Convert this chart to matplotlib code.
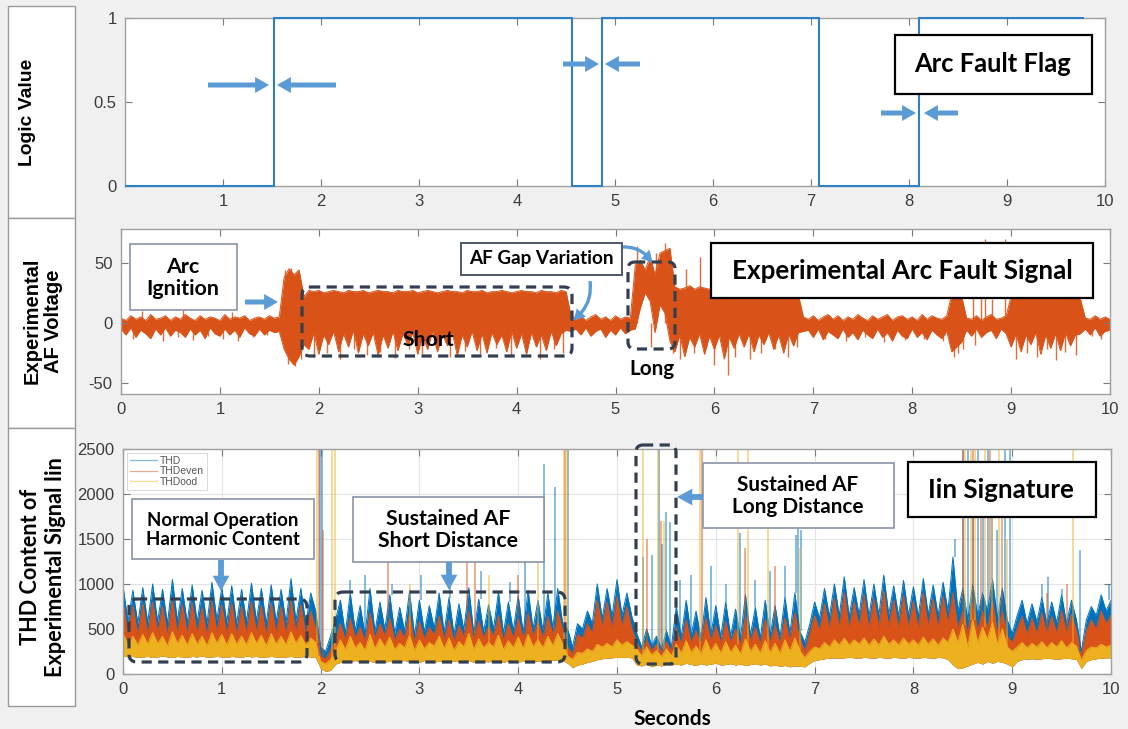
import numpy as np
import matplotlib
matplotlib.use('Agg')
import matplotlib.pyplot as plt
from matplotlib.patches import Rectangle, FancyBboxPatch, FancyArrowPatch
from matplotlib.lines import Line2D
import matplotlib.transforms as mtransforms

plt.rcParams['axes.unicode_minus'] = False

# ------------------------------------------------------------------ data
t = np.linspace(0, 10, 201)          # sample grid, 0.05 s

# Arc fault flag (step signal)
flag_edges = [0, 1.52, 4.56, 4.87, 7.08, 8.10, 9.79]
flag_levels = [0, 1, 0, 1, 0, 1]

# Experimental AF voltage: upper / lower envelope per sample
volt_hi = ([4, 2, 6, 3, 5, 2, 7, 3, 4, 6, 2, 5, 3, 7, 4, 2, 6, 3, 5, 4,
            2, 7, 3, 5, 4, 6, 2, 4, 5, 3, 6, 4]
           + [5] + [38, 45, 40, 44, 22]
           + [27, 26, 27, 25, 26, 27, 26, 25, 27, 26, 26, 27, 25, 26, 27, 26, 26, 25, 27, 26,
              26, 27, 25, 26, 27, 26, 25, 26, 27, 26, 26, 25, 27, 26, 26, 27, 25, 26, 26, 27,
              26, 25, 26, 27, 26, 26, 25, 27, 26, 26, 25, 27, 26]
           + [6] + [3, 6, 2, 5, 7, 3, 5, 2, 6, 3, 5, 4]
           + [48, 52, 44, 55, 40, 58, 60, 62]
           + [30, 28, 29, 31, 28, 30, 29, 28, 30, 29, 27, 28, 29, 28]
           + [24, 23, 24, 22, 23, 24, 23, 22, 24, 23, 22, 23]
           + [5] + [3, 6, 2, 5, 7, 3, 6, 2, 5, 3, 7, 4, 2, 6, 3, 5, 7, 2, 5, 6,
                    3, 5, 2, 7, 3, 6, 4, 3, 6]
           + [24, 23, 22] + [4, 3, 6, 2, 5, 7, 3, 4, 6]
           + [22, 23, 22, 21, 23, 22, 22, 23, 21, 22, 23, 22, 21, 22, 20]
           + [4, 3, 6, 3, 5, 3])
volt_lo = ([-5, -10, -4, -12, -6, -9, -13, -5, -10, -4, -11, -6, -8, -12, -5, -10, -6, -13, -4, -9,
            -11, -5, -10, -6, -12, -4, -9, -11, -5, -10, -6, -8]
           + [-7] + [-22, -30, -35, -28, -18]
           + [-22, -8, -26, -10, -18, -7, -24, -9, -20, -6, -25, -9, -19, -8, -27, -10, -21, -7, -23, -9,
              -18, -8, -26, -10, -22, -7, -24, -9, -19, -8, -27, -10, -20, -7, -23, -9, -25, -8, -18, -10,
              -24, -7, -21, -9, -26, -8, -20, -10, -23, -7, -19, -9, -6]
           + [-7] + [-5, -10, -4, -11, -7, -5, -12, -6, -10, -4, -9, -6]
           + [-5, 12, 25, 18, -8, 15, 8, -15]
           + [-24, -10, -28, -12, -20, -9, -26, -11, -22, -10, -30, -12, -21, -9]
           + [-20, -9, -24, -10, -18, -8, -22, -10, -25, -9, -19, -8]
           + [-7] + [-6, -12, -5, -14, -7, -10, -13, -5, -12, -8, -14, -6, -10, -13, -5, -12, -8, -15, -6, -11,
                     -13, -5, -12, -8, -14, -6, -10, -13, -7]
           + [-24, -20, -16] + [-6, -11, -5, -12, -8, -6, -13, -5, -9]
           + [-20, -9, -24, -10, -18, -8, -26, -10, -21, -9, -23, -8, -19, -10, -9]
           + [-5, -10, -4, -11, -7, -6])

# isolated voltage spikes
volt_spike_t = [0.12, 0.27, 0.42, 0.58, 0.73, 0.88, 1.03, 1.18, 1.33, 1.48, 0.21, 0.63, 1.12,
                1.66, 1.69, 1.72, 1.76, 1.79, 1.82,
                1.95, 2.08, 2.21, 2.36, 2.49, 2.62, 2.77, 2.91, 3.04, 3.19, 3.33, 3.48, 3.63, 3.79,
                3.94, 4.09, 4.24, 4.38, 4.47,
                5.22, 5.36, 5.41, 5.50, 5.58,
                5.65, 5.71, 5.79, 5.85, 5.92, 6.00, 6.05, 6.14, 6.21, 6.36, 6.47, 6.61, 6.74, 6.84,
                7.12, 7.33, 7.52, 7.71, 7.93, 8.12, 8.31,
                8.42, 8.46, 8.51,
                8.61, 8.63, 8.70, 8.74, 8.81, 8.94,
                9.05, 9.16, 9.26, 9.36, 9.45, 9.55, 9.66,
                9.82, 9.91]
volt_spike_v = [-13, -11, -15, -12, -14, -11, -13, -15, -12, -10, 10, 11, 9,
                44, -34, 46, -36, 42, -30,
                -28, -25, -30, -22, -27, -24, -29, -22, -26, -20, -28, -23, -26, -21,
                -27, -24, -30, -22, -25,
                64, -20, 58, 66, -25,
                -30, 45, -25, 55, -20, -35, 40, -43, -28, -30, -25, -22, -28, -20,
                -13, -15, -12, -16, -14, -13, -15,
                -28, -25, -22,
                30, -18, 25, 70, 20, 70,
                -30, -25, -28, -22, -31, -24, -27,
                -11, -13]

# THD content of Iin: three series + common lower edge of the band
thd = ([980, 580, 930, 560, 960, 570, 1000, 580, 940, 560, 1050, 590, 950, 570, 990, 580, 930, 560, 1020, 600,
        960, 570, 980, 560, 940, 580, 1010, 590, 950, 560, 990, 580, 940, 570, 1060, 590, 950, 560, 900]
       + [700, 300, 250, 420, 600]
       + [820, 450, 900, 480, 760, 430, 950, 470, 800, 500, 880, 450, 740, 480, 920, 430, 820, 470, 760, 510,
          900, 460, 850, 440, 780, 490, 960, 450, 830, 470, 770, 500, 910, 450, 800, 480, 870, 460, 930, 500,
          820, 480, 900, 510, 950, 560]
       + [500, 300, 560, 500, 700, 560, 1000, 620, 950, 640, 1050, 650, 900, 640]
       + [450, 300, 500, 320, 420, 280, 480, 300]
       + [750, 410, 820, 430, 700, 390, 850, 440, 760, 410, 800, 420, 720, 400, 880, 430, 740, 400, 820, 430,
          760, 410, 850, 450, 900, 480]
       + [350, 550, 800, 620, 950, 640, 1000, 650, 1080, 640, 960, 660, 1050, 640, 1000, 650, 1100, 660, 980, 640,
          1040, 650, 970, 640, 1060, 660, 990, 650, 1020, 700]
       + [1300, 700, 950, 600, 1000, 650, 900, 700, 1050, 620, 950, 600]
       + [450, 650, 820, 560, 780, 580, 850, 560, 800, 570, 880, 560, 820, 600]
       + [250, 600, 750, 650, 880, 700, 820])
thd_even = ([800, 450, 760, 430, 780, 440, 800, 460, 750, 420, 820, 450, 770, 440, 790, 450, 740, 420, 810, 460,
             770, 440, 790, 430, 750, 450, 800, 460, 760, 420, 790, 450, 750, 440, 820, 460, 770, 430, 700]
            + [500, 200, 170, 260, 380]
            + [560, 380, 620, 400, 520, 360, 680, 390, 560, 420, 620, 370, 500, 400, 660, 350, 580, 390, 520, 430,
               640, 380, 600, 360, 540, 410, 700, 370, 590, 400, 530, 420, 650, 370, 560, 400, 620, 390, 680, 420,
               580, 400, 640, 430, 700, 480]
            + [300, 220, 440, 400, 560, 450, 820, 520, 800, 500, 860, 520, 750, 500]
            + [350, 250, 380, 260, 330, 230, 360, 250]
            + [520, 330, 600, 350, 480, 320, 620, 370, 540, 340, 580, 350, 500, 320, 640, 360, 520, 330, 600, 350,
               540, 340, 620, 370, 680, 400]
            + [250, 450, 650, 480, 780, 500, 840, 510, 900, 500, 800, 520, 880, 500, 840, 510, 920, 520, 820, 500,
               870, 510, 810, 500, 900, 520, 830, 510, 860, 560]
            + [900, 500, 700, 450, 800, 480, 700, 500, 820, 450, 700, 420]
            + [350, 500, 640, 440, 620, 450, 680, 440, 640, 450, 700, 440, 660, 480]
            + [200, 480, 600, 500, 700, 560, 650])
thd_odd = ([450, 330, 420, 320, 440, 330, 460, 340, 420, 310, 470, 340, 430, 320, 450, 330, 420, 310, 460, 340,
            440, 320, 450, 330, 420, 320, 460, 340, 430, 310, 450, 330, 420, 320, 470, 340, 430, 320, 400]
           + [350, 140, 110, 160, 260]
           + [380, 270, 420, 290, 350, 260, 440, 280, 390, 300, 410, 270, 340, 290, 430, 260, 380, 280, 350, 310,
              420, 280, 400, 260, 360, 300, 450, 270, 390, 290, 350, 300, 430, 270, 370, 290, 410, 280, 440, 300,
              380, 290, 420, 310, 450, 330]
           + [200, 160, 240, 230, 280, 250, 330, 300, 340, 300, 380, 320, 360, 320]
           + [280, 200, 300, 210, 260, 190, 280, 200]
           + [330, 230, 370, 240, 310, 220, 380, 250, 340, 230, 360, 240, 320, 220, 390, 250, 330, 230, 370, 240,
              340, 230, 380, 250, 400, 260]
           + [180, 250, 300, 280, 350, 300, 380, 320, 400, 320, 380, 330, 400, 320, 390, 320, 420, 330, 380, 320,
              400, 330, 380, 320, 410, 330, 390, 320, 400, 350]
           + [500, 350, 550, 300, 600, 350, 520, 380, 580, 330, 500, 300]
           + [250, 300, 350, 290, 340, 300, 360, 290, 350, 300, 370, 290, 350, 310]
           + [150, 260, 300, 290, 330, 300, 320])
thd_floor = ([200, 190, 195, 185, 190, 195, 185, 190, 200, 190, 185, 195, 190, 185, 195, 190, 200, 185, 190, 195,
              190, 185, 195, 190, 185, 200, 190, 195, 185, 190, 195, 190, 185, 190, 195, 185, 190, 195, 190]
             + [180, 60, 30, 40, 110]
             + [130, 140, 135, 150, 130, 145, 140, 130, 150, 135, 140, 130, 145, 150, 135, 140, 130, 150, 145, 135,
                140, 150, 130, 145, 135, 140, 150, 130, 145, 140, 135, 150, 140, 130, 145, 150, 135, 140, 150, 145,
                140, 150, 145, 155, 150, 150]
             + [120, 70, 100, 110, 130, 140, 160, 170, 175, 180, 185, 185, 185, 180]
             + [100, 90, 110, 80, 100, 90, 110, 100]
             + [110, 100, 120, 105, 95, 115, 100, 110, 120, 100, 105, 115, 100, 110, 95, 105, 115, 100, 110, 90,
                100, 85, 95, 80, 90, 85]
             + [80, 120, 150, 160, 170, 175, 180, 175, 180, 185, 180, 175, 185, 180, 175, 185, 180, 175, 185, 180,
                175, 185, 180, 175, 185, 180, 175, 185, 180, 160]
             + [100, 60, 70, 90, 110, 130, 110, 140, 120, 140, 130, 110]
             + [80, 140, 160, 165, 170, 165, 170, 175, 170, 165, 170, 175, 170, 160]
             + [60, 140, 160, 170, 175, 180, 180])

# tall narrow spikes of each THD series
thd_spk_t = [1.99, 2.01, 2.30, 2.45, 2.72, 3.02, 3.31, 3.62, 3.92, 4.07, 4.26, 4.37, 4.50,
             5.26, 5.35, 5.43, 5.46, 5.50, 5.54,
             5.64, 5.75, 5.95, 6.10, 6.24, 6.40, 6.55, 6.70, 6.81, 6.83, 6.86,
             8.42, 8.50, 8.55, 8.60, 8.65, 8.70, 8.75, 8.80, 8.85, 8.93, 8.98,
             9.30, 9.36, 9.50, 9.69, 9.98]
thd_spk_v = [2500, 2500, 1050, 1100, 1000, 1100, 1050, 1150, 1020, 1350, 2330, 2080, 2500,
             1300, 1320, 2500, 1450, 1800, 1690,
             1040, 1100, 1200, 1000, 1570, 1050, 1150, 1200, 1550, 1650, 1600,
             1500, 2500, 2500, 2200, 2500, 1800, 2500, 2000, 1600, 2500, 2500,
             1000, 1080, 950, 1380, 1000]
even_spk_t = [1.98, 2.02, 2.68, 3.48, 3.56, 4.00, 4.47, 5.30, 5.45, 5.86, 6.30, 6.60,
              8.50, 8.60, 8.68, 8.78, 8.90, 9.35, 9.55]
even_spk_v = [2500, 1600, 1250, 1320, 1320, 1100, 2500, 1500, 1700, 2500, 1400, 1200,
              2500, 2500, 2000, 2500, 1900, 900, 1000]
odd_spk_t = [1.96, 2.12, 2.15, 2.90, 3.70, 4.20, 4.46, 4.49, 5.26, 5.42, 5.48, 5.84, 6.22, 6.33,
             6.53, 6.85, 8.52, 8.58, 8.62, 8.72, 8.80, 8.87, 8.95, 9.62]
odd_spk_v = [2500, 2500, 2500, 1000, 1100, 1800, 2500, 2500, 2500, 2500, 1700, 2500, 2500, 2500,
             1900, 1400, 2500, 2500, 2500, 2500, 2300, 2500, 1500, 2500]

series_names = ['THD', 'THDeven', 'THDood']
C_BLUE, C_ORANGE, C_YELLOW = '#0072BD', '#D95319', '#EDB120'

# ------------------------------------------------------------------ figure
W, H = 1128, 729
fig = plt.figure(figsize=(W / 100, H / 100), dpi=100)
fig.patch.set_facecolor('#f0f0f0')
PX = mtransforms.Affine2D().scale(1 / W, -1 / H).translate(0, 1) + fig.transFigure
renderer = fig.canvas.get_renderer()

TICKFONT = 'Liberation Sans'
BOLDFONT = 'Lato'


def fit_text(x, y, s, target_w, family=BOLDFONT, rotation=0, **kw):
    txt = fig.text(x, y, s, transform=PX, fontsize=10, family=family, weight='bold',
                   ha='center', va='center', color='black', zorder=6, **kw)
    w = txt.get_window_extent(renderer).width
    txt.set_fontsize(10 * target_w / w)
    txt.set_rotation(rotation)
    return txt


def box(x0, y0, x1, y1, ec, lw):
    fig.add_artist(Rectangle((x0, y0), x1 - x0, y1 - y0, transform=PX, fc='white',
                             ec=ec, lw=lw, zorder=5))


def dashed_box(x0, y0, x1, y1, r=8):
    fig.add_artist(FancyBboxPatch((x0, y0), x1 - x0, y1 - y0,
                                  boxstyle=f'round,pad=0,rounding_size={r}', transform=PX,
                                  fill=False, ec='#333f50', lw=2.3, ls=(0, (3.2, 2.0)), zorder=5))


def block_arrow(x0, y0, x1, y1, hl=10, hw=11.5, tw=3.6, rad=0.0):
    fig.add_artist(FancyArrowPatch((x0, y0), (x1, y1), transform=PX,
                                   arrowstyle=f'simple,head_length={hl},head_width={hw},tail_width={tw}',
                                   connectionstyle=f'arc3,rad={rad}', mutation_scale=1,
                                   shrinkA=0, shrinkB=0, color='#5b9bd5', lw=0, zorder=6))


# left label column
for y0, y1 in [(6, 218), (218, 428), (428, 706)]:
    fig.add_artist(Rectangle((8, y0), 67, y1 - y0, transform=PX, fc='white', ec='#9a9a9a', lw=1))
fit_text(28, 112, 'Logic Value', 107, family='Liberation Sans', rotation=90)
fit_text(43, 321, 'Experimental\nAF Voltage', 127, family='Liberation Sans', rotation=90,
         linespacing=1.15)
fit_text(43, 567, 'THD Content of\nExperimental Signal Iin', 220, rotation=90, linespacing=1.2)

# axes
ax1 = fig.add_axes([125 / W, 1 - 186 / H, 980 / W, 168 / H])
ax2 = fig.add_axes([121 / W, 1 - 394 / H, 989 / W, 165 / H])
ax3 = fig.add_axes([123 / W, 1 - 674 / H, 988 / W, 225 / H])
for ax in (ax1, ax2, ax3):
    ax.set_facecolor('white')
    for sp in ax.spines.values():
        sp.set_color('#a0a0a0')
        sp.set_linewidth(1.0)
    ax.tick_params(direction='in', length=5, width=0.8, color='#7a7a7a', top=True, right=True,
                   labelsize=12, labelcolor='#3c3c3c', pad=6)
    ax.set_xlim(0, 10)

# --- panel 1: flag
ax1.stairs(flag_levels, flag_edges, baseline=None, color='#2f80c4', lw=1.5, clip_on=False, zorder=4)
ax1.set_ylim(0, 1)
ax1.set_xticks(range(1, 11))
ax1.set_yticks([0, 0.5, 1])
ax1.set_yticklabels(['0', '0.5', '1'])

# --- panel 2: voltage
ax2.fill_between(t, volt_lo, volt_hi, color=C_ORANGE, lw=0)
ax2.plot(t, volt_hi, color=C_ORANGE, lw=0.7)
ax2.plot(t, volt_lo, color=C_ORANGE, lw=0.7)
ax2.vlines(volt_spike_t, 0, volt_spike_v, color=C_ORANGE, lw=1.0, alpha=0.85)
ax2.set_ylim(-59, 78)
ax2.set_xticks(range(0, 11))
ax2.set_yticks([-50, 0, 50])

# --- panel 3: THD
ax3.set_axisbelow(True)
ax3.grid(True, color='#e4e4e4', lw=0.8)
series = [(thd, C_BLUE, thd_spk_t, thd_spk_v),
          (thd_even, C_ORANGE, even_spk_t, even_spk_v),
          (thd_odd, C_YELLOW, odd_spk_t, odd_spk_v)]
for vals, col, _, _ in series:
    ax3.fill_between(t, thd_floor, vals, color=col, lw=0)
    ax3.plot(t, vals, color=col, lw=0.7)
for vals, col, st, sv in series:
    base = np.asarray(vals)[np.rint(np.asarray(st) / 0.05).astype(int)]
    ax3.vlines(st, base, sv, color=col, lw=1.1, alpha=0.6)
ax3.set_ylim(0, 2500)
ax3.set_xticks(range(0, 11))
ax3.set_yticks(range(0, 2501, 500))
handles = [Line2D([], [], color=c, lw=0.9, alpha=0.5) for c in (C_BLUE, C_ORANGE, C_YELLOW)]
leg = ax3.legend(handles, series_names, loc='upper left', fontsize=7.5, frameon=True, fancybox=False,
                 borderpad=0.3, handlelength=2.6, labelspacing=0.05, borderaxespad=0.35,
                 handletextpad=0.3)
leg.get_frame().set_edgecolor('#c8c8c8')
leg.get_frame().set_linewidth(0.6)
for tx in leg.get_texts():
    tx.set_color('#555555')
    tx.set_family(TICKFONT)

for ax in (ax1, ax2, ax3):
    for lab in ax.get_xticklabels() + ax.get_yticklabels():
        lab.set_family(TICKFONT)

# ------------------------------------------------------------------ annotations
# top panel arrows
block_arrow(208, 85, 269, 85)
block_arrow(336, 85, 277, 85)
block_arrow(563, 64, 599, 64)
block_arrow(640, 64, 605, 64)
block_arrow(881, 113, 916, 113)
block_arrow(958, 113, 924, 113)
box(895, 35, 1092, 94, 'black', 1.6)
fit_text(993, 64, 'Arc Fault Flag', 157)

# middle panel
box(130, 244, 237, 310, '#8a94a6', 1.2)
fit_text(183, 278, 'Arc\nIgnition', 73, linespacing=1.15)
block_arrow(245, 302, 278, 302)
dashed_box(302, 287, 572, 356)
fit_text(428, 340, 'Short', 52)
box(461, 243, 622, 275, '#404a59', 1.3)
fit_text(541, 259, 'AF Gap Variation', 144)
block_arrow(590, 281, 573, 320, hl=8, hw=9, tw=2.4, rad=-0.3)
dashed_box(628, 262, 675, 349, r=7)
fit_text(652, 369, 'Long', 45)
block_arrow(623, 247, 652, 263, hl=8, hw=9, tw=2.4, rad=-0.3)
box(711, 243, 1093, 298, 'black', 1.6)
fit_text(902, 271, 'Experimental Arc Fault Signal', 340)

# bottom panel
box(132, 499, 314, 559, '#8a94a6', 1.2)
fit_text(223, 530, 'Normal Operation\nHarmonic Content', 154, linespacing=1.1)
block_arrow(221, 560, 221, 591, hl=11, hw=12, tw=4.2)
dashed_box(129, 599, 307, 662)
box(353, 497, 544, 562, '#8a94a6', 1.2)
fit_text(448, 530, 'Sustained AF\nShort Distance', 140, linespacing=1.1)
block_arrow(449, 562, 449, 590, hl=11, hw=12, tw=4.2)
dashed_box(335, 592, 565, 662)
dashed_box(636, 445, 676, 664, r=7)
box(703, 463, 894, 528, '#8a94a6', 1.2)
fit_text(798, 496, 'Sustained AF\nLong Distance', 132, linespacing=1.1)
block_arrow(703, 497, 677, 497, hl=11, hw=12, tw=4.2)
box(908, 462, 1096, 517, 'black', 1.6)
fit_text(1001, 490, 'Iin Signature', 145)

fit_text(672, 719, 'Seconds', 78)

fig.savefig('out.png', dpi=100, facecolor=fig.get_facecolor())
